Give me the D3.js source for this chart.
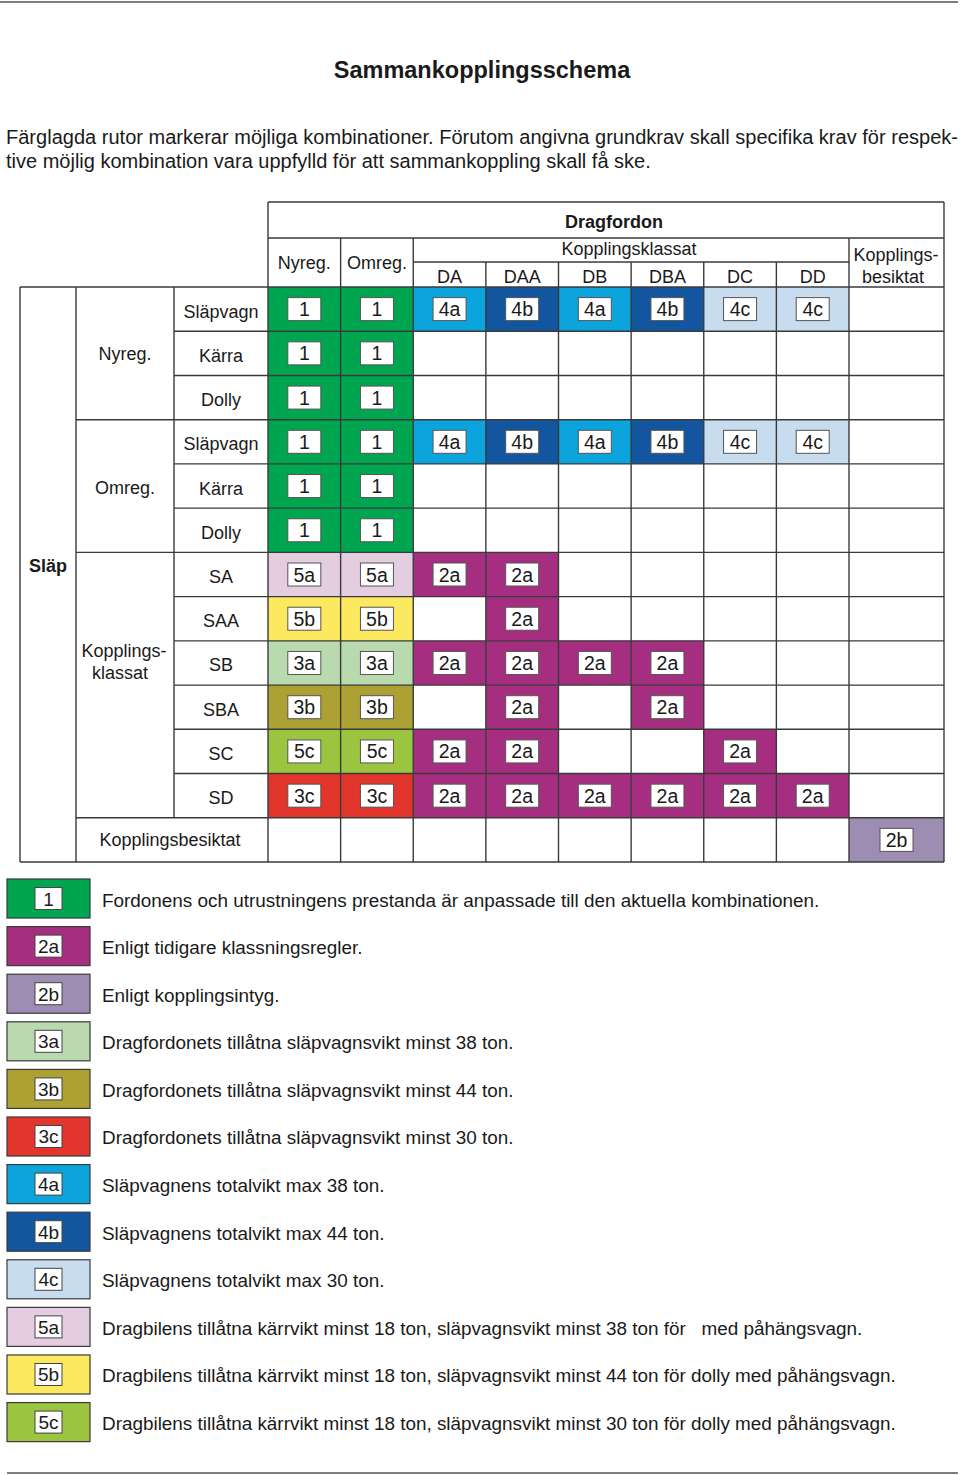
<!DOCTYPE html>
<html>
<head>
<meta charset="utf-8">
<script src="https://cdn.jsdelivr.net/npm/d3@7"></script>
<style>
  body { margin: 0; background: #fff; }
  svg { display: block; font-family: "Liberation Sans", Arial, sans-serif; }
</style>
</head>
<body>
<div id="chart"></div>
<script>
// Sammankopplingsschema - coupling matrix + legend

// table data
const colLabels = ["Nyreg.", "Omreg.", "DA", "DAA", "DB", "DBA", "DC", "DD", "Kopplingsbesiktat"];
const rowLabels = ["Släpvagn", "Kärra", "Dolly", "Släpvagn", "Kärra", "Dolly", "SA", "SAA", "SB", "SBA", "SC", "SD", "Kopplingsbesiktat"];
const rowGroups = ["Nyreg.", "Omreg.", "Kopplings-klassat", ""];
const groupSizes = [3, 3, 6, 1];

const cellCodes = [
  ["1", "1", "4a", "4b", "4a", "4b", "4c", "4c", ""],
  ["1", "1", "", "", "", "", "", "", ""],
  ["1", "1", "", "", "", "", "", "", ""],
  ["1", "1", "4a", "4b", "4a", "4b", "4c", "4c", ""],
  ["1", "1", "", "", "", "", "", "", ""],
  ["1", "1", "", "", "", "", "", "", ""],
  ["5a", "5a", "2a", "2a", "", "", "", "", ""],
  ["5b", "5b", "", "2a", "", "", "", "", ""],
  ["3a", "3a", "2a", "2a", "2a", "2a", "", "", ""],
  ["3b", "3b", "", "2a", "", "2a", "", "", ""],
  ["5c", "5c", "2a", "2a", "", "", "2a", "", ""],
  ["3c", "3c", "2a", "2a", "2a", "2a", "2a", "2a", ""],
  ["", "", "", "", "", "", "", "", "2b"]
];

// legend data
const legendCodes = ["1", "2a", "2b", "3a", "3b", "3c", "4a", "4b", "4c", "5a", "5b", "5c"];
const legendColors = ["#00a550", "#a62e80", "#9e8db3", "#b9d9ae", "#aea133", "#e2352b",
                      "#0ba4dc", "#11569e", "#c7ddef", "#e4cde1", "#fde95f", "#9bc53e"];
const legendTexts = [
  "Fordonens och utrustningens prestanda är anpassade till den aktuella kombinationen.",
  "Enligt tidigare klassningsregler.",
  "Enligt kopplingsintyg.",
  "Dragfordonets tillåtna släpvagnsvikt minst 38 ton.",
  "Dragfordonets tillåtna släpvagnsvikt minst 44 ton.",
  "Dragfordonets tillåtna släpvagnsvikt minst 30 ton.",
  "Släpvagnens totalvikt max 38 ton.",
  "Släpvagnens totalvikt max 44 ton.",
  "Släpvagnens totalvikt max 30 ton.",
  "Dragbilens tillåtna kärrvikt minst 18 ton, släpvagnsvikt minst 38 ton för   med påhängsvagn.",
  "Dragbilens tillåtna kärrvikt minst 18 ton, släpvagnsvikt minst 44 ton för dolly med påhängsvagn.",
  "Dragbilens tillåtna kärrvikt minst 18 ton, släpvagnsvikt minst 30 ton för dolly med påhängsvagn."
];

const width = 960, height = 1475;
const lineColor = "#3a3a3a";
const colorOf = d3.scaleOrdinal().domain(legendCodes).range(legendColors);

const svg = d3.select("#chart").append("svg")
    .attr("width", width)
    .attr("height", height);

// top + bottom rules
svg.append("line").attr("x1", 0).attr("x2", 958).attr("y1", 2).attr("y2", 2)
    .attr("stroke", "#555").attr("stroke-width", 1.5);
svg.append("line").attr("x1", 7).attr("x2", 958).attr("y1", 1473).attr("y2", 1473)
    .attr("stroke", "#555").attr("stroke-width", 1.5);

// title
svg.append("text")
    .attr("x", 482).attr("y", 78)
    .attr("text-anchor", "middle")
    .attr("font-size", "23.5px")
    .attr("font-weight", "bold")
    .attr("fill", "#1a1a1a")
    .text("Sammankopplingsschema");

// intro paragraph (first line justified)
svg.append("text")
    .attr("x", 6).attr("y", 144)
    .attr("font-size", "20px").attr("fill", "#1a1a1a")
    .attr("textLength", 952).attr("lengthAdjust", "spacing")
    .text("Färglagda rutor markerar möjliga kombinationer. Förutom angivna grundkrav skall specifika krav för respek-");
svg.append("text")
    .attr("x", 6).attr("y", 168)
    .attr("font-size", "20px").attr("fill", "#1a1a1a")
    .text("tive möjlig kombination vara uppfylld för att sammankoppling skall få ske.");

// scales for the matrix
const x = d3.scaleBand().domain(colLabels.slice(0, 8)).range([268, 849]);
const xLast = d3.scaleBand().domain(colLabels.slice(8)).range([849, 944]);
const colX = c => colLabels.indexOf(c) < 8 ? x(c) : xLast(c);
const colW = c => colLabels.indexOf(c) < 8 ? x.bandwidth() : xLast.bandwidth();
const y = d3.scaleBand().domain(d3.range(rowLabels.length)).range([287, 862]);
const rh = y.bandwidth();

// flatten cells
const cells = [];
cellCodes.forEach((row, r) => row.forEach((code, c) => {
  if (code) cells.push({ r: r, col: colLabels[c], code: code });
}));

const g = svg.append("g");

// coloured cells
g.selectAll("rect.cell").data(cells).join("rect")
    .attr("class", "cell")
    .attr("x", d => colX(d.col))
    .attr("y", d => y(d.r))
    .attr("width", d => colW(d.col))
    .attr("height", rh)
    .attr("fill", d => colorOf(d.code));

// grid lines
const hLines = [];
const groupStarts = [0, 3, 6, 12];
d3.range(rowLabels.length + 1).forEach(r => {
  let x1 = 174;
  if (r === 0 || r === rowLabels.length) x1 = 20;
  else if (groupStarts.includes(r)) x1 = 76;
  hLines.push({ x1: x1, x2: 944, y: y(r) !== undefined ? y(r) : y.range()[1] });
});
hLines.push({ x1: 268, x2: 944, y: 202 });
hLines.push({ x1: 268, x2: 944, y: 238 });
hLines.push({ x1: x("DA"), x2: 849, y: 262 });

const vLines = [
  { x: 20, y1: 287, y2: 862 },
  { x: 76, y1: 287, y2: 862 },
  { x: 174, y1: 287, y2: y(12) },
  { x: 268, y1: 202, y2: 862 },
  { x: 944, y1: 202, y2: 862 },
  { x: 849, y1: 238, y2: 862 }
];
colLabels.slice(1, 8).forEach(c => {
  vLines.push({ x: x(c), y1: (c === "Omreg." || c === "DA") ? 238 : 262, y2: 862 });
});

g.selectAll("line.h").data(hLines).join("line")
    .attr("class", "h")
    .attr("x1", d => d.x1).attr("x2", d => d.x2)
    .attr("y1", d => d.y).attr("y2", d => d.y)
    .attr("stroke", lineColor).attr("stroke-width", 1.4);
g.selectAll("line.v").data(vLines).join("line")
    .attr("class", "v")
    .attr("x1", d => d.x).attr("x2", d => d.x)
    .attr("y1", d => d.y1).attr("y2", d => d.y2)
    .attr("stroke", lineColor).attr("stroke-width", 1.4);

// code boxes inside coloured cells
const boxW = 33, boxH = 23;
const boxes = g.selectAll("g.box").data(cells).join("g")
    .attr("class", "box")
    .attr("transform", d => `translate(${colX(d.col) + colW(d.col) / 2},${y(d.r) + rh / 2})`);
boxes.append("rect")
    .attr("x", -boxW / 2).attr("y", -boxH / 2)
    .attr("width", boxW).attr("height", boxH)
    .attr("fill", "#fff").attr("stroke", "#555").attr("stroke-width", 1);
boxes.append("text")
    .attr("text-anchor", "middle").attr("y", 7)
    .attr("font-size", "19.5px").attr("fill", "#1a1a1a")
    .text(d => d.code);

// header texts
const hdr = svg.append("g").attr("fill", "#1a1a1a").attr("font-size", "18px").attr("text-anchor", "middle");
hdr.append("text").attr("x", 614).attr("y", 228).attr("font-weight", "bold").text("Dragfordon");
hdr.append("text").attr("x", 629).attr("y", 255).text("Kopplingsklassat");
hdr.selectAll("text.col").data(colLabels.slice(0, 2)).join("text")
    .attr("class", "col")
    .attr("x", d => x(d) + x.bandwidth() / 2).attr("y", 269)
    .text(d => d);
hdr.selectAll("text.cls").data(colLabels.slice(2, 8)).join("text")
    .attr("class", "cls")
    .attr("x", d => x(d) + x.bandwidth() / 2).attr("y", 283)
    .text(d => d);
const kb = hdr.append("text");
kb.append("tspan").attr("x", 896).attr("y", 261).text("Kopplings-");
kb.append("tspan").attr("x", 893).attr("y", 283).text("besiktat");

// row labels
const rl = svg.append("g").attr("fill", "#1a1a1a").attr("font-size", "18px").attr("text-anchor", "middle");
rl.selectAll("text.row").data(rowLabels.slice(0, 12)).join("text")
    .attr("class", "row")
    .attr("x", 221)
    .attr("y", (d, i) => y(i) + rh / 2 + 8.5)
    .text(d => d);
rl.append("text").attr("x", 170).attr("y", y(12) + rh / 2 + 6.5).text(rowLabels[12]);

// group labels
rl.append("text").attr("x", 125).attr("y", y(1) + rh / 2 + 7).text(rowGroups[0]);
rl.append("text").attr("x", 125).attr("y", y(4) + rh / 2 + 8).text(rowGroups[1]);
const kk = rl.append("text");
kk.append("tspan").attr("x", 124).attr("y", y(8) + rh / 2 - 6).text("Kopplings-");
kk.append("tspan").attr("x", 120).attr("y", y(8) + rh / 2 + 16).text("klassat");
rl.append("text").attr("x", 48).attr("y", 572).attr("font-weight", "bold").text("Släp");

// legend
const ly = d3.scaleBand().domain(legendCodes).range([879, 1441.6]).paddingInner(0.18);
const leg = svg.append("g").selectAll("g").data(legendCodes).join("g")
    .attr("transform", d => `translate(0,${ly(d)})`);
leg.append("rect")
    .attr("x", 7).attr("y", 0)
    .attr("width", 83).attr("height", ly.bandwidth())
    .attr("fill", d => colorOf(d))
    .attr("stroke", lineColor).attr("stroke-width", 1.2);
leg.append("rect")
    .attr("x", 35).attr("y", ly.bandwidth() / 2 - 11)
    .attr("width", 27).attr("height", 22)
    .attr("fill", "#fff").attr("stroke", "#444").attr("stroke-width", 1);
leg.append("text")
    .attr("x", 48.5).attr("y", ly.bandwidth() / 2 + 7)
    .attr("text-anchor", "middle")
    .attr("font-size", "19px").attr("fill", "#1a1a1a")
    .text(d => d);
leg.append("text")
    .attr("x", 102).attr("y", ly.bandwidth() / 2 + 8)
    .attr("font-size", "18.9px").attr("fill", "#1a1a1a")
    .attr("xml:space", "preserve").style("white-space", "pre")
    .text((d, i) => legendTexts[i]);
</script>
</body>
</html>
